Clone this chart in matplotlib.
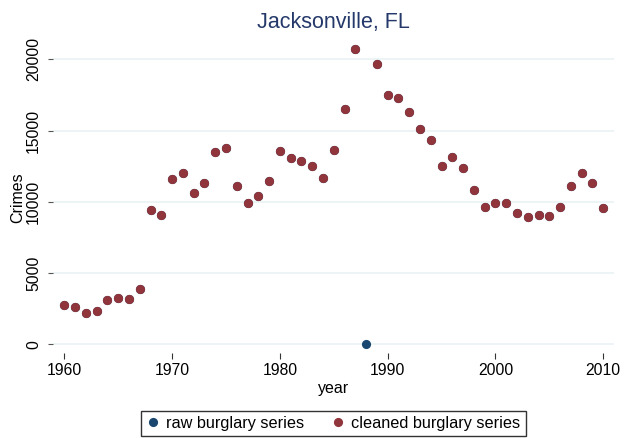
import numpy as np
import matplotlib
matplotlib.use("Agg")
import matplotlib.pyplot as plt
from matplotlib.lines import Line2D

years = list(range(1960, 2011))
cleaned = [2760, 2620, 2200, 2340, 3130, 3220, 3200, 3880, 9390, 9070,
           11570, 12030, 10630, 11330, 13460, 13790, 11100, 9950, 10400, 11450,
           13550, 13080, 12830, 12500, 11640, 13670, 16500, 20720, np.nan, 19700,
           17520, 17290, 16310, 15120, 14320, 12500, 13150, 12360, 10840, 9650,
           9950, 9910, 9180, 8900, 9070, 9020, 9630, 11120, 12010, 11310,
           9560]
raw = [0 if y == 1988 else v for y, v in zip(years, cleaned)]

title = "Jacksonville, FL"
xlabel = "year"
ylabel = "Crimes"
legend_labels = ["raw burglary series", "cleaned burglary series"]
xticks = [1960, 1970, 1980, 1990, 2000, 2010]
yticks = [0, 5000, 10000, 15000, 20000]

navy = "#1a476f"
maroon = "#90353b"
title_color = "#24386a"

plt.rcParams['font.family'] = ['Liberation Sans', 'DejaVu Sans']

W, H = 625, 438
fig = plt.figure(figsize=(W / 100, H / 100), dpi=100)
left, right, top, bottom = 53, 614, 42, 353
ax = fig.add_axes([left / W, 1 - bottom / H, (right - left) / W, (bottom - top) / H])

ax.plot(years, raw, 'o', color=navy, markersize=6.6, markeredgewidth=0, zorder=3)
ax.plot(years, cleaned, 'o', color=maroon, markersize=6.6, markeredgewidth=0, zorder=4)

ax.set_xlim(1958.95, 2011.0)
y0 = 344.3
ppu = (344.3 - 59.3) / 20000
ax.set_ylim((y0 - bottom) / ppu, (y0 - top) / ppu)

ax.set_xticks(xticks)
ax.set_yticks(yticks)
ax.set_yticklabels([str(v) for v in yticks], rotation=90, va='center')
ax.grid(axis='y', color='#eaf2f3', linewidth=1.2)
ax.set_axisbelow(True)
for s in ax.spines.values():
    s.set_visible(False)
ax.tick_params(axis='x', length=4, width=0.8, color='#333333', pad=3, labelsize=11.3)
ax.tick_params(axis='y', length=3.5, width=0.8, color='#555555', pad=5, labelsize=11.3)

ax.set_title(title, color=title_color, fontsize=15.5, pad=10)
ax.set_xlabel(xlabel, fontsize=11.5, labelpad=2)
ax.set_ylabel(ylabel, fontsize=11.5, labelpad=1)

handles = [Line2D([], [], marker='o', linestyle='', color=navy, markersize=6.6, markeredgewidth=0),
           Line2D([], [], marker='o', linestyle='', color=maroon, markersize=6.6, markeredgewidth=0)]
leg = fig.legend(handles, legend_labels, loc='lower center',
                 bbox_to_anchor=(((left + right) / 2) / W, 0.0 / H),
                 ncol=2, fontsize=11.7, frameon=True, fancybox=False,
                 handletextpad=0.4, columnspacing=1.7, handlelength=0.8,
                 borderpad=0.32, borderaxespad=0.1, edgecolor='black')
leg.get_frame().set_linewidth(1.0)

fig.savefig("out.png", dpi=100)
